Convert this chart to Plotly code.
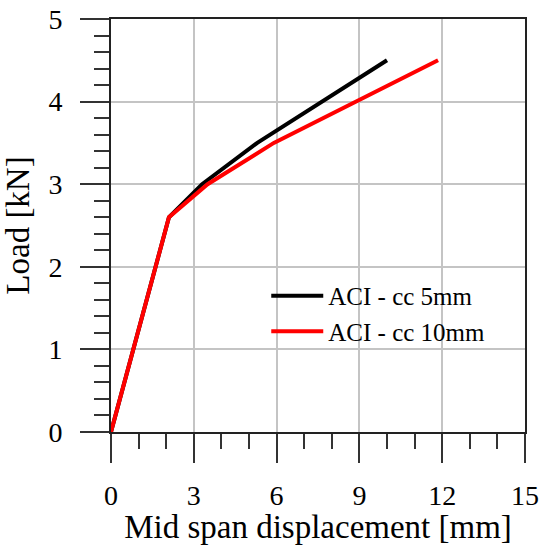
import plotly.graph_objects as go

x_cc5 = [0, 2.1, 3.3, 5.3, 10.0]
y_cc5 = [0, 2.6, 3.0, 3.5, 4.5]
x_cc10 = [0, 2.1, 3.5, 5.9, 11.85]
y_cc10 = [0, 2.6, 3.0, 3.5, 4.5]
names = ["ACI - cc 5mm", "ACI - cc 10mm"]
colors = ["black", "#ff0000"]

fig = go.Figure()
fig.add_trace(go.Scatter(x=x_cc5, y=y_cc5, mode="lines", name=names[0],
                         line=dict(color=colors[0], width=4)))
fig.add_trace(go.Scatter(x=x_cc10, y=y_cc10, mode="lines", name=names[1],
                         line=dict(color=colors[1], width=4)))

font = "Liberation Serif, Times New Roman, serif"
fig.update_layout(
    width=540, height=545,
    margin=dict(l=111, r=15, t=19, b=113, autoexpand=False),
    plot_bgcolor="white", paper_bgcolor="white",
    font=dict(family=font, color="black", size=28),
    showlegend=True,
    legend=dict(x=0.375, y=0.385, xanchor="left", yanchor="top",
                bgcolor="rgba(0,0,0,0)", font=dict(size=25, family=font),
                itemwidth=52, tracegroupgap=0),
)
fig.update_xaxes(
    range=[0, 15], tickvals=[0, 3, 6, 9, 12, 15],
    ticks="outside", ticklen=29, tickwidth=1.5, tickcolor="#333",
    showline=True, linecolor="#222", linewidth=2, mirror=True,
    showgrid=True, gridcolor="#c4c4c4", gridwidth=1.5, zeroline=False,
    minor=dict(dtick=1, ticks="outside", ticklen=15, tickwidth=1.5, tickcolor="#333", showgrid=False),
    title=dict(text="Mid span displacement [mm]", font=dict(size=33, family=font), standoff=2),
    tickfont=dict(size=28, family=font),
    ticklabelstandoff=8, automargin=False,
)
fig.update_yaxes(
    range=[0, 5], tickvals=[0, 1, 2, 3, 4, 5],
    ticks="outside", ticklen=29, tickwidth=1.5, tickcolor="#333",
    showline=True, linecolor="#222", linewidth=2, mirror=True,
    showgrid=True, gridcolor="#c4c4c4", gridwidth=1.5, zeroline=False,
    minor=dict(dtick=0.2, ticks="outside", ticklen=15, tickwidth=1.5, tickcolor="#333", showgrid=False),
    title=dict(text="Load [kN]", font=dict(size=33, family=font), standoff=14),
    tickfont=dict(size=28, family=font),
    ticklabelstandoff=12, automargin=False,
)
fig.write_html("out.html")
